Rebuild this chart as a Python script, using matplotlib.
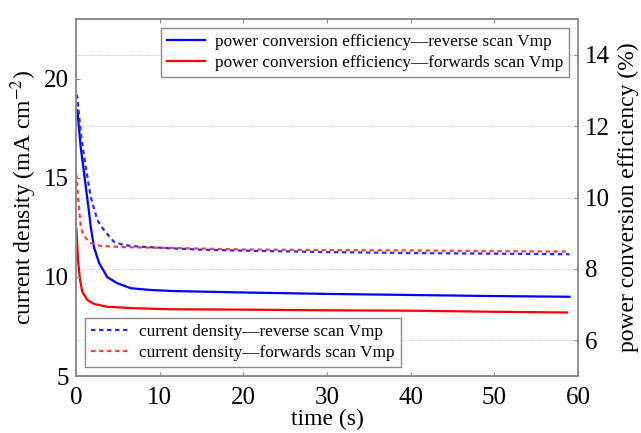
import matplotlib
matplotlib.use("Agg")
import matplotlib.pyplot as plt

plt.rcParams['font.family'] = ['Liberation Serif', 'DejaVu Serif']
plt.rcParams['mathtext.fontset'] = 'stix'

# current density (left axis), mA cm^-2
t_jrev = [0, 0.16, 0.56, 1.16, 1.76, 2.15, 2.55, 3.0, 3.55, 4.54, 5.73, 7.7, 11.3, 15, 20, 30, 40, 50, 59]
j_rev = [19.2, 19.07, 17.25, 15.54, 14.03, 13.45, 12.87, 12.55, 12.25, 11.76, 11.6, 11.52, 11.44, 11.37, 11.32, 11.25, 11.2, 11.17, 11.14]

t_jfwd = [0, 0.1, 0.2, 0.35, 0.55, 0.8, 1.16, 1.76, 2.95, 5.7, 11, 20, 30, 40, 50, 59]
j_fwd = [15.2, 15.0, 14.2, 13.5, 12.6, 12.2, 11.96, 11.7, 11.56, 11.5, 11.46, 11.38, 11.35, 11.33, 11.3, 11.27]

# power conversion efficiency (right axis), %
t_prev = [0, 0.16, 0.56, 0.96, 1.55, 1.76, 2.15, 2.75, 3.74, 4.93, 6.54, 8.92, 11.7, 20, 30, 40, 50, 59]
p_rev = [12.45, 12.45, 11.41, 10.69, 9.6, 9.17, 8.61, 8.17, 7.77, 7.6, 7.46, 7.41, 7.38, 7.34, 7.3, 7.27, 7.24, 7.22]

t_pfwd = [0, 0.05, 0.24, 0.48, 0.75, 1.35, 2.15, 3.74, 6.93, 11.3, 20, 30, 40, 50, 58.7]
p_fwd = [9.15, 9.14, 8.25, 7.69, 7.36, 7.13, 7.02, 6.94, 6.9, 6.87, 6.86, 6.84, 6.83, 6.8, 6.78]

spine_col = '#8c8c8c'

fig = plt.figure(figsize=(6.41, 4.33), dpi=100)
ax = fig.add_axes([0.1186, 0.1316, 0.783, 0.8244])
ax2 = ax.twinx()

l1, = ax.plot(t_jrev, j_rev, color='#2a2aff', lw=1.6, dashes=(2, 1.6), label='current density\u2014reverse scan Vmp')
l2, = ax.plot(t_jfwd, j_fwd, color='#ff4040', lw=1.6, dashes=(2, 1.6), label='current density\u2014forwards scan Vmp')
l3, = ax2.plot(t_prev, p_rev, color='#0000ff', lw=1.6, label='power conversion efficiency\u2014reverse scan Vmp')
l4, = ax2.plot(t_pfwd, p_fwd, color='#ff0000', lw=1.6, label='power conversion efficiency\u2014forwards scan Vmp')

ax.set_xlim(0, 60)
ax.set_ylim(5, 23)
ax2.set_ylim(5, 15)
ax.set_xticks(range(0, 61, 10))
ax.set_yticks([5, 10, 15, 20])
ax2.set_yticks([6, 8, 10, 12, 14])
ax2.grid(axis='y', color='#cccccc', linestyle=(0, (1, 1)), lw=0.8)
ax.set_zorder(ax2.get_zorder() + 1)
ax.patch.set_visible(False)

for a in (ax, ax2):
    for s in a.spines.values():
        s.set_color(spine_col)
        s.set_linewidth(1.2)
    a.tick_params(direction='in', color=spine_col, labelsize=18, length=3, pad=5)
ax.tick_params(top=True, right=False)
ax.tick_params(axis='x', pad=8)
ax2.tick_params(left=False, right=True)

ax.set_xlabel('time (s)', fontsize=17, labelpad=0)
ax.set_ylabel('current density (mA cm$^{-2}$)', fontsize=17, labelpad=4)
ax2.set_ylabel('power conversion efficiency (%)', fontsize=17, labelpad=6)

leg1 = ax.legend(handles=[l3, l4], loc='upper right', fontsize=12.4, fancybox=False,
                 edgecolor=spine_col, framealpha=1, handlelength=2.2, borderaxespad=0.5,
                 labelspacing=0.3, borderpad=0.35, handletextpad=0.6)
leg1.get_frame().set_linewidth(1.0)
ax.add_artist(leg1)
leg2 = ax.legend(handles=[l1, l2], loc='lower left', fontsize=12.4, fancybox=False,
                 edgecolor=spine_col, framealpha=1, handlelength=2.2, borderaxespad=0.5,
                 labelspacing=0.3, borderpad=0.35, handletextpad=0.6)
leg2.get_frame().set_linewidth(1.0)

fig.savefig('out.png', dpi=100)
